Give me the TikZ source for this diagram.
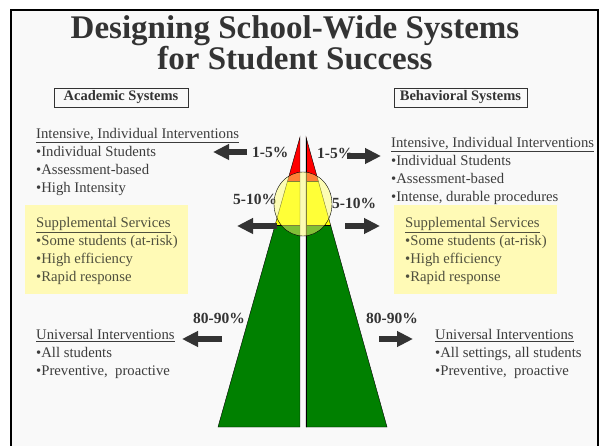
\documentclass[tikz,border=0pt]{standalone}
\usepackage{fontspec}
\setmainfont{Liberation Serif}
\usetikzlibrary{arrows.meta}
\definecolor{pagebg}{RGB}{249,249,249}
\definecolor{inkgray}{RGB}{60,60,60}
\definecolor{titlegray}{RGB}{51,51,51}
\definecolor{boxink}{RGB}{80,80,62}
\definecolor{boxfill}{RGB}{255,250,182}
\definecolor{tred}{RGB}{255,0,0}
\definecolor{tyel}{RGB}{255,255,0}
\definecolor{tgrn}{RGB}{0,128,0}
\definecolor{ringfill}{RGB}{255,255,110}
\begin{document}
\begin{tikzpicture}[x=1pt,y=-1pt,
  txt/.style={anchor=base west,inner sep=0pt,text=inkgray,font=\fontsize{14.7}{18}\selectfont},
  boxtxt/.style={txt,text=boxink},
  pct/.style={anchor=base west,inner sep=0pt,text=titlegray,font=\fontsize{15.5}{18}\selectfont\bfseries},
  sysbox/.style={draw=titlegray,thin,text=titlegray,inner sep=0pt,minimum height=19pt,font=\fontsize{14.5}{16}\selectfont\bfseries},
  blk/.style={line width=6pt,draw=titlegray,-{Triangle[length=16pt,width=15pt]}}]
\useasboundingbox (0,0) rectangle (600,446);
\draw[line width=2pt,fill=pagebg] (11,10) rectangle (598,470);
% title
\node (title1) at (295,39)[anchor=base,inner sep=0pt,text=titlegray,font=\fontsize{33}{31}\selectfont\bfseries]{Designing School-Wide Systems};
\node (title2) at (295,70)[anchor=base,inner sep=0pt,text=titlegray,font=\fontsize{33}{31}\selectfont\bfseries]{for Student Success};
\node (acad) at (121,97.5)[sysbox,minimum width=134pt]{Academic Systems};
\node (behav) at (460.5,97.5)[sysbox,minimum width=133pt]{Behavioral Systems};
% yellow boxes
\fill[boxfill] (25,205) rectangle (188,294);
\fill[boxfill] (394,205) rectangle (557,294);
% academic side
\node (acI0) at (36,139)[txt]{\underline{Intensive, Individual Interventions}};
\node (acI1) at (36,157)[txt]{•Individual Students};
\node (acI2) at (36,174.5)[txt]{•Assessment-based};
\node (acI3) at (36,192.5)[txt]{•High Intensity};
\node (acS0) at (36,227.5)[boxtxt]{\underline{Supplemental Services}};
\node (acS1) at (36,245.5)[boxtxt]{•Some students (at-risk)};
\node (acS2) at (36,263.5)[boxtxt]{•High efficiency};
\node (acS3) at (36,281.5)[boxtxt]{•Rapid response};
\node (acU0) at (36,340)[txt]{\underline{Universal Interventions}};
\node (acU1) at (36,358)[txt]{•All students};
\node (acU2) at (36,375.5)[txt]{•Preventive,\ \ proactive};
% behavioral side
\node (bhI0) at (391,148)[txt]{\underline{Intensive, Individual Interventions}};
\node (bhI1) at (391,166)[txt]{•Individual Students};
\node (bhI2) at (391,184)[txt]{•Assessment-based};
\node (bhI3) at (391,202)[txt]{•Intense, durable procedures};
\node (bhS0) at (405,227.5)[boxtxt]{\underline{Supplemental Services}};
\node (bhS1) at (405,245.5)[boxtxt]{•Some students (at-risk)};
\node (bhS2) at (405,263.5)[boxtxt]{•High efficiency};
\node (bhS3) at (405,281.5)[boxtxt]{•Rapid response};
\node (bhU0) at (435,340)[txt]{\underline{Universal Interventions}};
\node (bhU1) at (435,358)[txt]{•All settings, all students};
\node (bhU2) at (435,375.5)[txt]{•Preventive,\ \ proactive};
% triangle halves
\begin{scope}
\clip (300,137)--(218,427)--(300,427)--cycle;
\filldraw[fill=tred] (200,120) rectangle (300,181);
\filldraw[fill=tyel] (200,181) rectangle (300,225);
\filldraw[fill=tgrn] (200,225) rectangle (300,440);
\end{scope}
\draw (300,137)--(218,427)--(300,427)--cycle;
\begin{scope}
\clip (306,137)--(387,427)--(306,427)--cycle;
\filldraw[fill=tred] (306,120) rectangle (400,181);
\filldraw[fill=tyel] (306,181) rectangle (400,225);
\filldraw[fill=tgrn] (306,225) rectangle (400,440);
\end{scope}
\draw (306,137)--(387,427)--(306,427)--cycle;
% percentages
\node (pL1) at (252,158)[pct]{1-5\%};
\node (pR1) at (317,159)[pct]{1-5\%};
\node (pL2) at (233,205)[pct]{5-10\%};
\node (pR2) at (332,209)[pct]{5-10\%};
\node (pL3) at (193,324)[pct]{80-90\%};
\node (pR3) at (366,324)[pct]{80-90\%};
\draw[fill=ringfill,fill opacity=0.5] (303,204) ellipse [x radius=29pt,y radius=32pt];
% arrows
\coordinate (aL1) at (247,152); \coordinate (aL1t) at (213,152);
\coordinate (aR1) at (347,156); \coordinate (aR1t) at (381,156);
\coordinate (aL2) at (277,226); \coordinate (aL2t) at (237,226);
\coordinate (aR2) at (345,226); \coordinate (aR2t) at (380,226);
\coordinate (aL3) at (222,339); \coordinate (aL3t) at (182,339);
\coordinate (aR3) at (379,339); \coordinate (aR3t) at (413,339);
\draw[blk] (aL1)--(aL1t);
\draw[blk] (aR1)--(aR1t);
\draw[blk] (aL2)--(aL2t);
\draw[blk] (aR2)--(aR2t);
\draw[blk] (aL3)--(aL3t);
\draw[blk] (aR3)--(aR3t);
\end{tikzpicture}
\end{document}
